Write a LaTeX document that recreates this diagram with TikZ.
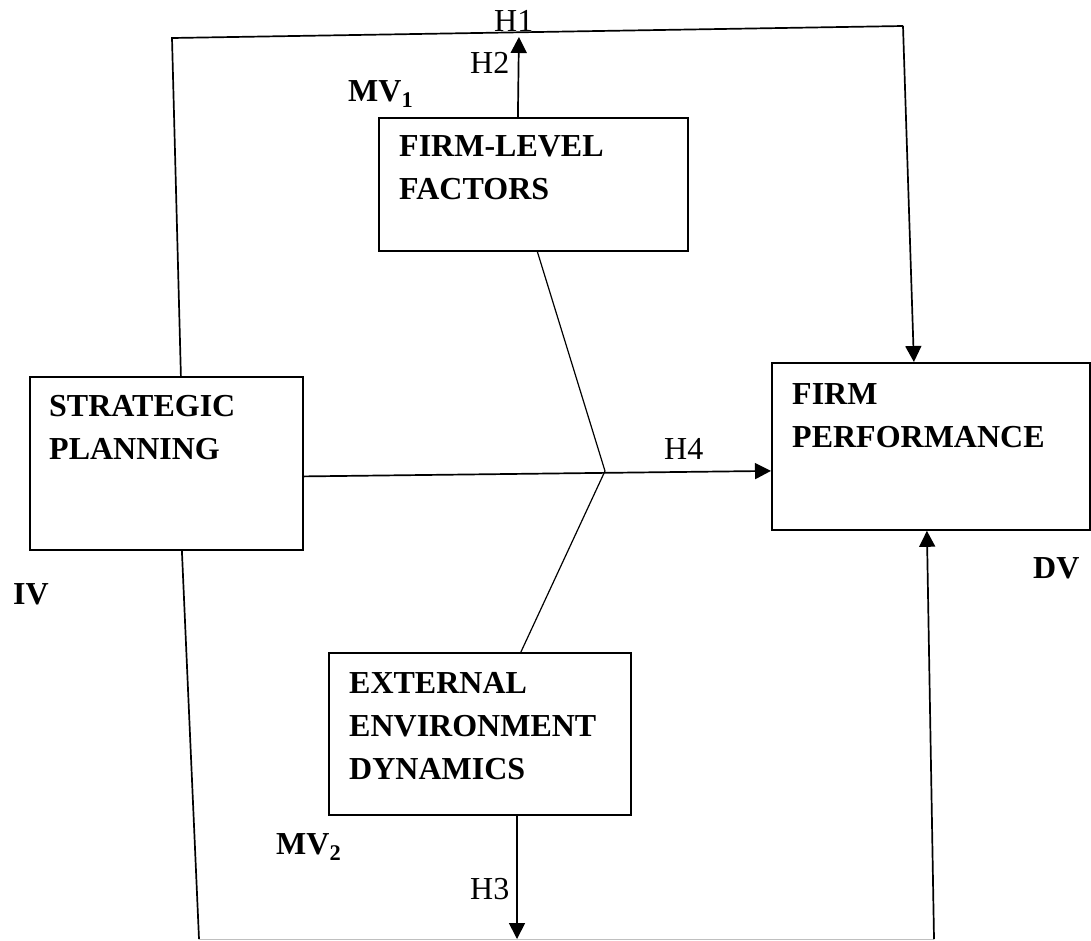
\documentclass[tikz,border=0pt]{standalone}
\usepackage{fontspec}
\setmainfont{Liberation Serif}
\usetikzlibrary{arrows.meta}
\begin{document}
\begin{tikzpicture}[x=1pt,y=-1pt,
	box/.style={draw,line width=1.8pt,anchor=north west,inner sep=0pt},
	boxtext/.style={font=\fontsize{32}{43}\selectfont\bfseries,align=left,anchor=north west,inner sep=0pt},
	varname/.style={font=\fontsize{32}{43}\selectfont\bfseries,anchor=north west,inner sep=0pt},
	hyp/.style={font=\fontsize{32}{43}\selectfont,anchor=north west,inner sep=0pt},
	link/.style={line width=1.7pt},
	thinlink/.style={line width=1.2pt},
	arrowlink/.style={line width=1.7pt,-{Triangle[length=16pt,width=16pt]}}]
	\useasboundingbox (0,0) rectangle (1091,940);
	% boxes
	\node[box,minimum width=273pt,minimum height=173pt] (plan) at (29,376) {};
	\node[box,minimum width=309pt,minimum height=133pt] (firm) at (378,117) {};
	\node[box,minimum width=302pt,minimum height=162pt] (env) at (328,652) {};
	\node[box,minimum width=318pt,minimum height=167pt] (perf) at (771,362) {};
	% box texts
	\node[boxtext] (plantext) at (49,395) {STRATEGIC\\PLANNING};
	\node[boxtext] (firmtext) at (399,135) {FIRM-LEVEL\\FACTORS};
	\node[boxtext] (envtext) at (349,672) {EXTERNAL\\ENVIRONMENT\\DYNAMICS};
	\node[boxtext] (perftext) at (792,383) {FIRM\\PERFORMANCE};
	% variable labels
	\node[varname] (iv) at (13,583) {IV};
	\node[varname] (dv) at (1033,557) {DV};
	\node[varname] (mv1) at (348,80) {MV\textsubscript{1}};
	\node[varname] (mv2) at (276,833) {MV\textsubscript{2}};
	% hypotheses
	\node[hyp] (h1) at (494,10) {H1};
	\node[hyp] (h2) at (470,52) {H2};
	\node[hyp] (h3) at (470,878) {H3};
	\node[hyp] (h4) at (664,438) {H4};
	% frame corners and meeting point
	\coordinate (topleft) at (172,38);
	\coordinate (topright) at (903,26);
	\coordinate (botleft) at (199,939);
	\coordinate (botright) at (934,939);
	\coordinate (hub) at (605,471);
	% connectors
	\draw[link] ([xshift=14.5pt]plan.north) to (topleft) to (topright);
	\draw[arrowlink] (topright) to ([xshift=-17pt]perf.north);
	\draw[link] ([xshift=15.5pt]plan.south) to (botleft);
	\draw[gray!50,line width=0.8pt] (botleft) to (botright);
	\draw[arrowlink] (botright) to ([xshift=-4pt]perf.south);
	\draw[arrowlink] ([xshift=-15.5pt]firm.north) to ([xshift=-14.5pt,yshift=1pt]firm.north |- topleft);
	\draw[arrowlink] ([xshift=189pt]env.south west) to ([xshift=189pt]env.south west |- botleft);
	\draw[thinlink] ([xshift=4pt]firm.south) to (hub);
	\draw[thinlink] ([xshift=41pt]env.north) to (hub);
	\draw[arrowlink] ([yshift=-13pt]plan.east) to ([yshift=-24.5pt]perf.west);
\end{tikzpicture}
\end{document}
